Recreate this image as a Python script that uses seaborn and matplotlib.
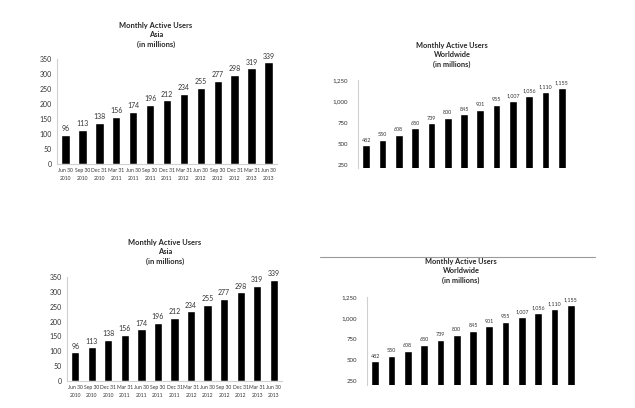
import matplotlib
matplotlib.use("Agg")
import matplotlib.pyplot as plt
import seaborn as sns
import pandas as pd
from matplotlib.lines import Line2D

dates = ["Jun 30\n2010", "Sep 30\n2010", "Dec 31\n2010", "Mar 31\n2011", "Jun 30\n2011",
         "Sep 30\n2011", "Dec 31\n2011", "Mar 31\n2012", "Jun 30\n2012", "Sep 30\n2012",
         "Dec 31\n2012", "Mar 31\n2013", "Jun 30\n2013"]
asia = [96, 113, 138, 156, 174, 196, 212, 234, 255, 277, 298, 319, 339]
world = [482, 550, 608, 680, 739, 800, 845, 901, 955, 1007, 1056, 1110, 1155]

asia_title = "Monthly Active Users\nAsia\n(in millions)"
world_title = "Monthly Active Users\nWorldwide\n(in millions)"
asia_ticks = [0, 50, 100, 150, 200, 250, 300, 350]
world_ticks = [250, 500, 750, 1000, 1250]

sns.set_style("white")
plt.rcParams['font.family'] = ['Lato', 'DejaVu Sans']

W, H = 635, 408
fig = plt.figure(figsize=(W / 100, H / 100), dpi=100)
fig.patch.set_facecolor("white")

df_asia = pd.DataFrame({"date": dates, "users": asia})
df_world = pd.DataFrame({"date": dates, "users": world})


def add_ax(left, right, top, bottom):
    return fig.add_axes([left / W, 1 - bottom / H, (right - left) / W, (bottom - top) / H])


def style(ax):
    for s in ["top", "right"]:
        ax.spines[s].set_visible(False)
    for s in ["left", "bottom"]:
        ax.spines[s].set_color("#d0d0d0")
        ax.spines[s].set_linewidth(0.8)
    ax.tick_params(length=0, colors="#333333")
    ax.set_xlabel("")
    ax.set_ylabel("")


def asia_chart(left, right, top, bottom, tx, ty):
    ax = add_ax(left, right, top, bottom)
    sns.barplot(data=df_asia, x="date", y="users", color="black", width=0.5,
                saturation=1, ax=ax)
    ax.set_ylim(0, 350)
    ax.set_yticks(asia_ticks)
    ax.set_yticklabels([str(t) for t in asia_ticks], fontsize=5.0)
    ax.set_xticks(range(len(dates)))
    ax.set_xticklabels(dates, fontsize=3.6, linespacing=1.6)
    ax.tick_params(axis="x", pad=3)
    ax.tick_params(axis="y", pad=3.5)
    style(ax)
    ax.bar_label(ax.containers[0], labels=[str(v) for v in asia], fontsize=5.0,
                 padding=2, color="#333333")
    fig.text(tx / W, 1 - ty / H, asia_title, ha="center", va="center",
             fontsize=5.4, fontweight="bold", linespacing=1.45)
    return ax


def world_chart(left, right, top, bottom, ymin, tx, ty):
    ax = add_ax(left, right, top, bottom)
    sns.barplot(data=df_world, x="date", y="users", color="black", width=0.47,
                saturation=1, ax=ax)
    ax.set_ylim(ymin, 1250)
    ax.set_yticks(world_ticks)
    ax.set_yticklabels([f"{t:,}" for t in world_ticks], fontsize=4.4)
    ax.set_xticks([])
    ax.tick_params(axis="y", pad=7)
    style(ax)
    ax.spines["bottom"].set_visible(False)
    ax.bar_label(ax.containers[0], labels=[f"{v:,}" for v in world], fontsize=3.9,
                 padding=2, color="#333333")
    fig.text(tx / W, 1 - ty / H, world_title, ha="center", va="center",
             fontsize=5.3, fontweight="bold", linespacing=1.45)
    return ax


asia_chart(57, 277, 59, 164, 156, 35)
world_chart(358, 570, 80, 168, 215, 452, 55)
asia_chart(67, 282, 277, 381, 165, 252)
world_chart(367, 579, 297, 385, 202, 461, 271)

fig.add_artist(Line2D([320 / W, 595 / W], [1 - 257 / H, 1 - 257 / H],
                      color="#9a9a9a", linewidth=0.8))

fig.savefig("out.png", dpi=100, facecolor="white")
